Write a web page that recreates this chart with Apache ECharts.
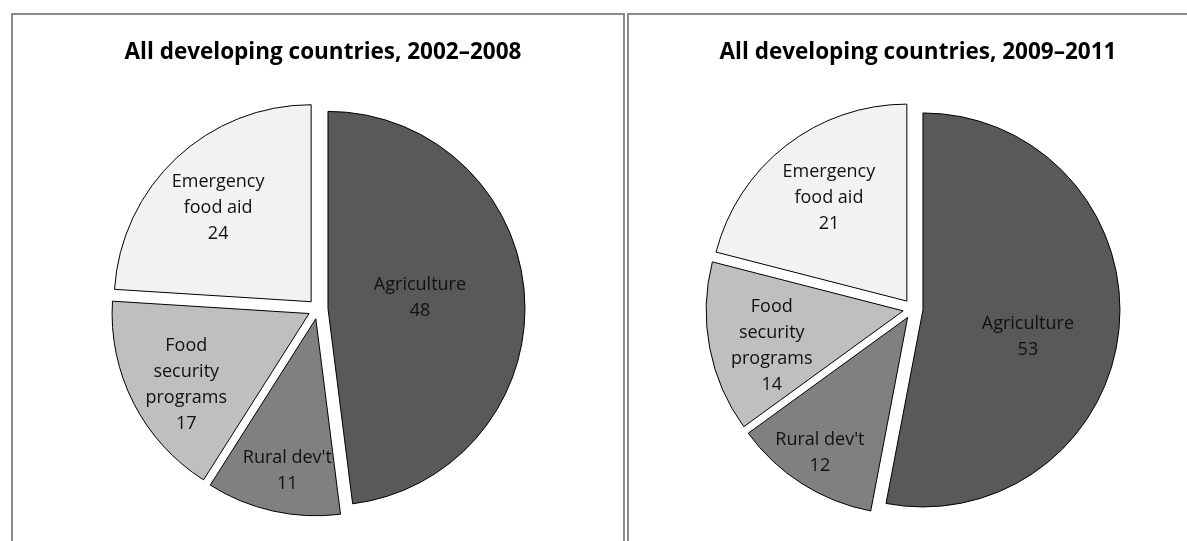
<!DOCTYPE html>
<html>
<head>
<meta charset="utf-8">
<script src="https://cdn.jsdelivr.net/npm/echarts@6/dist/echarts.min.js"></script>
<style>
  html, body { margin: 0; padding: 0; background: #fff; }
  #chart { width: 1187px; height: 541px; }
</style>
</head>
<body>
<div id="chart"></div>
<script>
const categories = ['Agriculture', "Rural dev't", 'Food\nsecurity\nprograms', 'Emergency\nfood aid']
const values2002 = [48, 11, 17, 24]
const values2009 = [53, 12, 14, 21]
const titles = ['All developing countries, 2002\u20132008', 'All developing countries, 2009\u20132011']

const colors = ['#595959', '#808080', '#bfbfbf', '#f2f2f2']
const radius = 197
const explode = 10
const fontFamily = '"Open Sans", "Liberation Sans", sans-serif'

// label placement, Excel put them unevenly:
// dist = share of the radius from the slice centre, turn = degrees off the mid angle
const labelDist2002 = [0.47, 0.785, 0.72, 0.67]
const labelTurn2002 = [-3, -2, -3, -1.6]
const labelDist2009 = [0.55, 0.82, 0.69, 0.656]
const labelTurn2009 = [9, 0.5, -4, 0.7]

function makeSeries (center, values, labelDist, labelTurn) {
  const total = values.reduce((a, b) => a + b, 0)
  // mid angle of each slice, clockwise from 12 o'clock
  const mids = []
  let acc = 0
  values.forEach(v => {
    mids.push((acc + v / 2) / total * Math.PI * 2)
    acc += v
  })

  return {
    type: 'pie',
    center: center,
    radius: radius,
    startAngle: 90,
    clockwise: true,
    selectedMode: 'multiple',
    selectedOffset: explode,
    silent: true,
    itemStyle: { borderColor: '#000', borderWidth: 1 },
    select: { itemStyle: { borderColor: '#000', borderWidth: 1 } },
    emphasis: { disabled: true },
    label: {
      position: 'inside',
      formatter: '{b}\n{c}',
      color: '#111',
      fontFamily: fontFamily,
      fontSize: 18,
      lineHeight: 26,
      align: 'center'
    },
    labelLine: { show: false },
    // labelRect is measured before the explode shift, the label then moves with its slice
    labelLayout: function (params) {
      const i = params.dataIndex
      const a = mids[i] + labelTurn[i] * Math.PI / 180
      const tx = center[0] + labelDist[i] * radius * Math.sin(a)
      const ty = center[1] - labelDist[i] * radius * Math.cos(a)
      const r = params.labelRect
      return { dx: tx - (r.x + r.width / 2), dy: ty - (r.y + r.height / 2) }
    },
    data: categories.map((name, i) => ({
      name: name,
      value: values[i],
      selected: true,
      itemStyle: { color: colors[i] },
      select: { itemStyle: { color: colors[i] } }
    }))
  }
}

const titleStyle = { fontFamily: fontFamily, fontSize: 22.5, fontWeight: 'bold', color: '#000' }

const chart = echarts.init(document.getElementById('chart'))
chart.setOption({
  animation: false,
  backgroundColor: '#fff',
  title: [
    { text: titles[0], left: 318, top: 36, textAlign: 'center', textStyle: titleStyle },
    { text: titles[1], left: 913, top: 36, textAlign: 'center', textStyle: titleStyle }
  ],
  graphic: [
    {
      type: 'rect',
      shape: { x: 12, y: 14, width: 612, height: 560 },
      style: { fill: null, stroke: '#8a8a8a', lineWidth: 2 },
      z: -1
    },
    {
      type: 'rect',
      shape: { x: 628, y: 14, width: 600, height: 560 },
      style: { fill: null, stroke: '#8a8a8a', lineWidth: 2 },
      z: -1
    }
  ],
  series: [
    makeSeries([318, 309], values2002, labelDist2002, labelTurn2002),
    makeSeries([913, 309], values2009, labelDist2009, labelTurn2009)
  ]
})
</script>
</body>
</html>
